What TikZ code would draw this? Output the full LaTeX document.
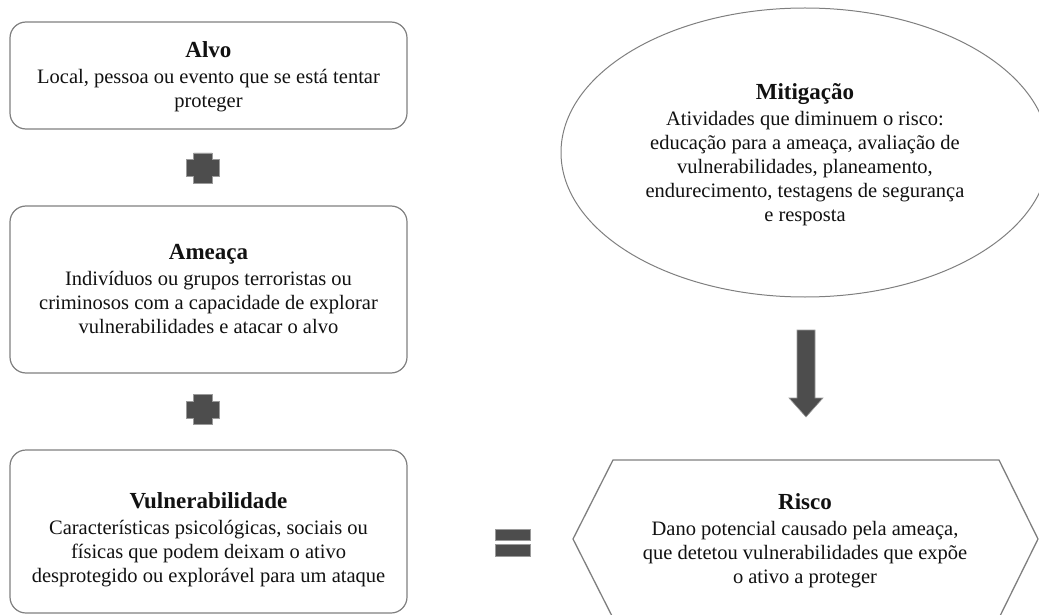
\documentclass[tikz,border=0pt]{standalone}
\usepackage{fontspec}
\setmainfont{Liberation Serif}
\usetikzlibrary{shapes.geometric}
\definecolor{edge}{HTML}{7F7F7F}
\definecolor{sym}{HTML}{4D4D4D}
\definecolor{symrim}{HTML}{9A9A9A}
\definecolor{ink}{HTML}{111111}
\newcommand{\ttl}[1]{{\fontsize{23}{24}\selectfont\bfseries #1}}
\begin{document}
\begin{tikzpicture}[x=1pt,y=-1pt,
  box/.style={draw=edge, line width=1.2pt, rounded corners=16pt, minimum width=397pt, inner sep=0pt},
  txt/.style={align=center, text=ink, font=\fontsize{20.5}{24}\selectfont, inner sep=0pt},
  symb/.style={fill=sym, draw=symrim, line width=0.6pt}
]
\useasboundingbox (0,0) rectangle (1039,615);
\clip (0,0) rectangle (1039,615);

% left column boxes
\node[box, minimum height=107pt] (alvo) at (208.5,75.5) {};
\node[txt] (alvot) at (208.5,76.5) {\ttl{Alvo}\\[2pt]Local, pessoa ou evento que se está tentar\\proteger};

\node[box, minimum height=167pt] (ameaca) at (208.5,289.5) {};
\node[txt] (ameacat) at (208.5,289.5) {\ttl{Ameaça}\\[2pt]Indivíduos ou grupos terroristas ou\\criminosos com a capacidade de explorar\\vulnerabilidades e atacar o alvo};

\node[box, minimum height=163pt] (vuln) at (208.5,531.5) {};
\node[txt] (vulnt) at (208.5,540) {\ttl{Vulnerabilidade}\\[2pt]Características psicológicas, sociais ou\\físicas que podem deixam o ativo\\desprotegido ou explorável para um ataque};

% plus signs
\path[symb] (193.5,153) -- (212,153) -- (212,159.5) -- (219,159.5) -- (219,176.5) -- (212,176.5) -- (212,183) -- (193.5,183) -- (193.5,176.5) -- (186,176.5) -- (186,159.5) -- (193.5,159.5) -- cycle;
\path[symb] (193.5,394.5) -- (212,394.5) -- (212,401) -- (219,401) -- (219,418) -- (212,418) -- (212,424.5) -- (193.5,424.5) -- (193.5,418) -- (186,418) -- (186,401) -- (193.5,401) -- cycle;

% equal sign
\path[symb] (495,529) rectangle (530,540.5);
\path[symb] (495,544.5) rectangle (530,556);

% mitigation ellipse
\node[ellipse, draw=edge, line width=1pt, minimum width=488pt, minimum height=289pt, inner sep=0pt] (mitig) at (805,152.5) {};
\node[txt] (mitigt) at (805,155) {\ttl{Mitigação}\\[2pt]Atividades que diminuem o risco:\\educação para a ameaça, avaliação de\\vulnerabilidades, planeamento,\\endurecimento, testagens de segurança\\e resposta};

% down arrow
\path[symb] (797,330) -- (815,330) -- (815,398) -- (823,398) -- (806,417) -- (789,398) -- (797,398) -- cycle;

% risk hexagon
\coordinate (h1) at (573,539);
\coordinate (h2) at (613,460);
\coordinate (h3) at (999,460);
\coordinate (h4) at (1038,539);
\coordinate (h5) at (999,618);
\coordinate (h6) at (613,618);
\draw[edge, line width=1.3pt, line join=miter] (h1) -- (h2) -- (h3) -- (h4) -- (h5) -- (h6) -- cycle;
\node[txt] (risco) at (805,541) {\ttl{Risco}\\[2pt]Dano potencial causado pela ameaça,\\que detetou vulnerabilidades que expõe\\o ativo a proteger};
\end{tikzpicture}
\end{document}
